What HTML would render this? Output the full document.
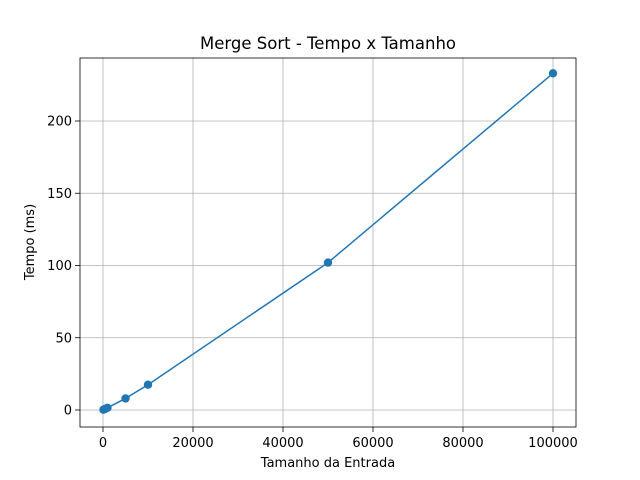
<!DOCTYPE html>
<html><head><meta charset="utf-8"><style>body{margin:0;background:#fff}svg{display:block;font-family:"DejaVu Sans","Liberation Sans",sans-serif}</style></head>
<body>
<svg id="chart" width="640" height="480">
<rect width="640" height="480" fill="#fff"/>
<g id="grid"></g>
<g id="series"></g>
<rect x="80" y="58" width="496" height="369" fill="none" stroke="#000" stroke-width="0.8"/>
<g id="ticks" font-size="13" fill="#000"></g>
<text x="328" y="49" text-anchor="middle" font-size="16.5">Merge Sort - Tempo x Tamanho</text>
<text x="328" y="467" text-anchor="middle" font-size="13">Tamanho da Entrada</text>
<text transform="translate(34,242) rotate(-90)" text-anchor="middle" font-size="13">Tempo (ms)</text>
</svg>
<script>
const sizes = [100, 500, 1000, 5000, 10000, 50000, 100000];
const times = [0.2, 0.8, 1.5, 8, 17.5, 102, 233];
const xTicks = [0, 20000, 40000, 60000, 80000, 100000];
const yTicks = [0, 50, 100, 150, 200];
const ns = 'http://www.w3.org/2000/svg';
const xs = v => 103 + v * 0.0045;
const ys = v => 410 - v * 1.445;
function mk(tag, attrs, parent) {
  const e = document.createElementNS(ns, tag);
  for (const k in attrs) e.setAttribute(k, attrs[k]);
  document.getElementById(parent).appendChild(e);
  return e;
}
xTicks.forEach(t => {
  const x = xs(t);
  const g = mk('line', {x1:x, x2:x, y1:58, y2:427, stroke:'#b0b0b0', 'stroke-width':0.8}, 'grid');
  
  
  mk('line', {x1:x, x2:x, y1:427, y2:432, stroke:'#000', 'stroke-width':0.8}, 'ticks');
  const l = mk('text', {x:x, y:447, 'text-anchor':'middle'}, 'ticks');
  l.textContent = t;
  
  
});
yTicks.forEach(t => {
  const y = ys(t);
  const g = mk('line', {x1:80, x2:576, y1:y, y2:y, stroke:'#b0b0b0', 'stroke-width':0.8}, 'grid');
  
  
  mk('line', {x1:75, x2:80, y1:y, y2:y, stroke:'#000', 'stroke-width':0.8}, 'ticks');
  const l = mk('text', {x:72, y:y+4.7, 'text-anchor':'end'}, 'ticks');
  l.textContent = t;
  
  
});
const pts = sizes.map((s, i) => xs(s) + ',' + ys(times[i])).join(' ');
const line = mk('polyline', {points:pts, fill:'none', stroke:'#1f77b4', 'stroke-width':1.5}, 'series');


sizes.forEach((s, i) => {
  const c = mk('circle', {cx:xs(s), cy:ys(times[i]), r:4.2, fill:'#1f77b4'}, 'series');
  
  
});
</script>
</body></html>
